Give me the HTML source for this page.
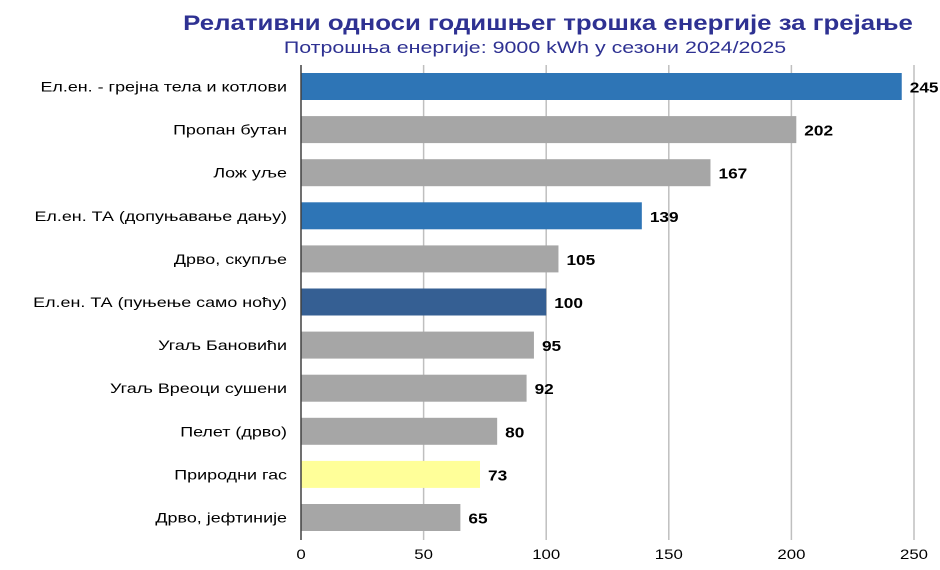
<!DOCTYPE html>
<html><head><meta charset="utf-8"><style>
body{margin:0;background:#fff;width:940px;height:565px;overflow:hidden;font-family:"Liberation Sans",sans-serif}
</style></head><body>
<svg width="940" height="565">
<text transform="translate(548,30) scale(1.23,1)" text-anchor="middle" font-size="21" font-weight="bold" fill="#2e3192">Релативни односи годишњег трошка енергије за грејање</text>
<text transform="translate(535,53) scale(1.26,1)" text-anchor="middle" font-size="17" fill="#2e3192">Потрошња енергије: 9000 kWh у сезони 2024/2025</text>
<g id="plot"></g>
</svg>
<script>
const categories=["Ел.ен. - грејна тела и котлови","Пропан бутан","Лож уље","Ел.ен. ТА (допуњавање дању)","Дрво, скупље","Ел.ен. ТА (пуњење само ноћу)","Угаљ Бановићи","Угаљ Вреоци сушени","Пелет (дрво)","Природни гас","Дрво, јефтиније"];
const values=[245,202,167,139,105,100,95,92,80,73,65];
const colors=["#2e75b6","#a6a6a6","#a6a6a6","#2e75b6","#a6a6a6","#355f93","#a6a6a6","#a6a6a6","#a6a6a6","#ffff99","#a6a6a6"];
const ticks=[0,50,100,150,200,250];
const NS="http://www.w3.org/2000/svg";
const g=document.getElementById('plot');
const x=v=>301+v*613/250;
const y=i=>86.5+i*43.1;
function mk(t,a){const e=document.createElementNS(NS,t);for(const k in a)e.setAttribute(k,a[k]);g.appendChild(e);return e;}
ticks.forEach(t=>{
 if(t>0){const l=mk('line',{x1:x(t),x2:x(t),y1:65,y2:540,stroke:'#bfbfbf','stroke-width':1.5});
 
 }
 const tx=mk('text',{transform:'translate('+x(t)+',559) scale(1.2,1)','text-anchor':'middle','font-size':14,fill:'#000'});tx.textContent=t;
 
 
});
categories.forEach((c,i)=>{
 const r=mk('rect',{x:x(0),y:y(i)-13.5,width:x(values[i])-x(0),height:27,fill:colors[i]});
 
 
 const lb=mk('text',{transform:'translate(287,'+(y(i)+5)+') scale(1.28,1)','text-anchor':'end','font-size':14,fill:'#000'});lb.textContent=c;
 
 
 const v=mk('text',{transform:'translate('+(x(values[i])+8)+','+(y(i)+6)+') scale(1.15,1)','font-size':15,'font-weight':'bold',fill:'#000'});v.textContent=values[i];
 
 
});
const ax=mk('line',{x1:x(0),x2:x(0),y1:65,y2:540,stroke:'#404040','stroke-width':1.5});


</script>
</body></html>
